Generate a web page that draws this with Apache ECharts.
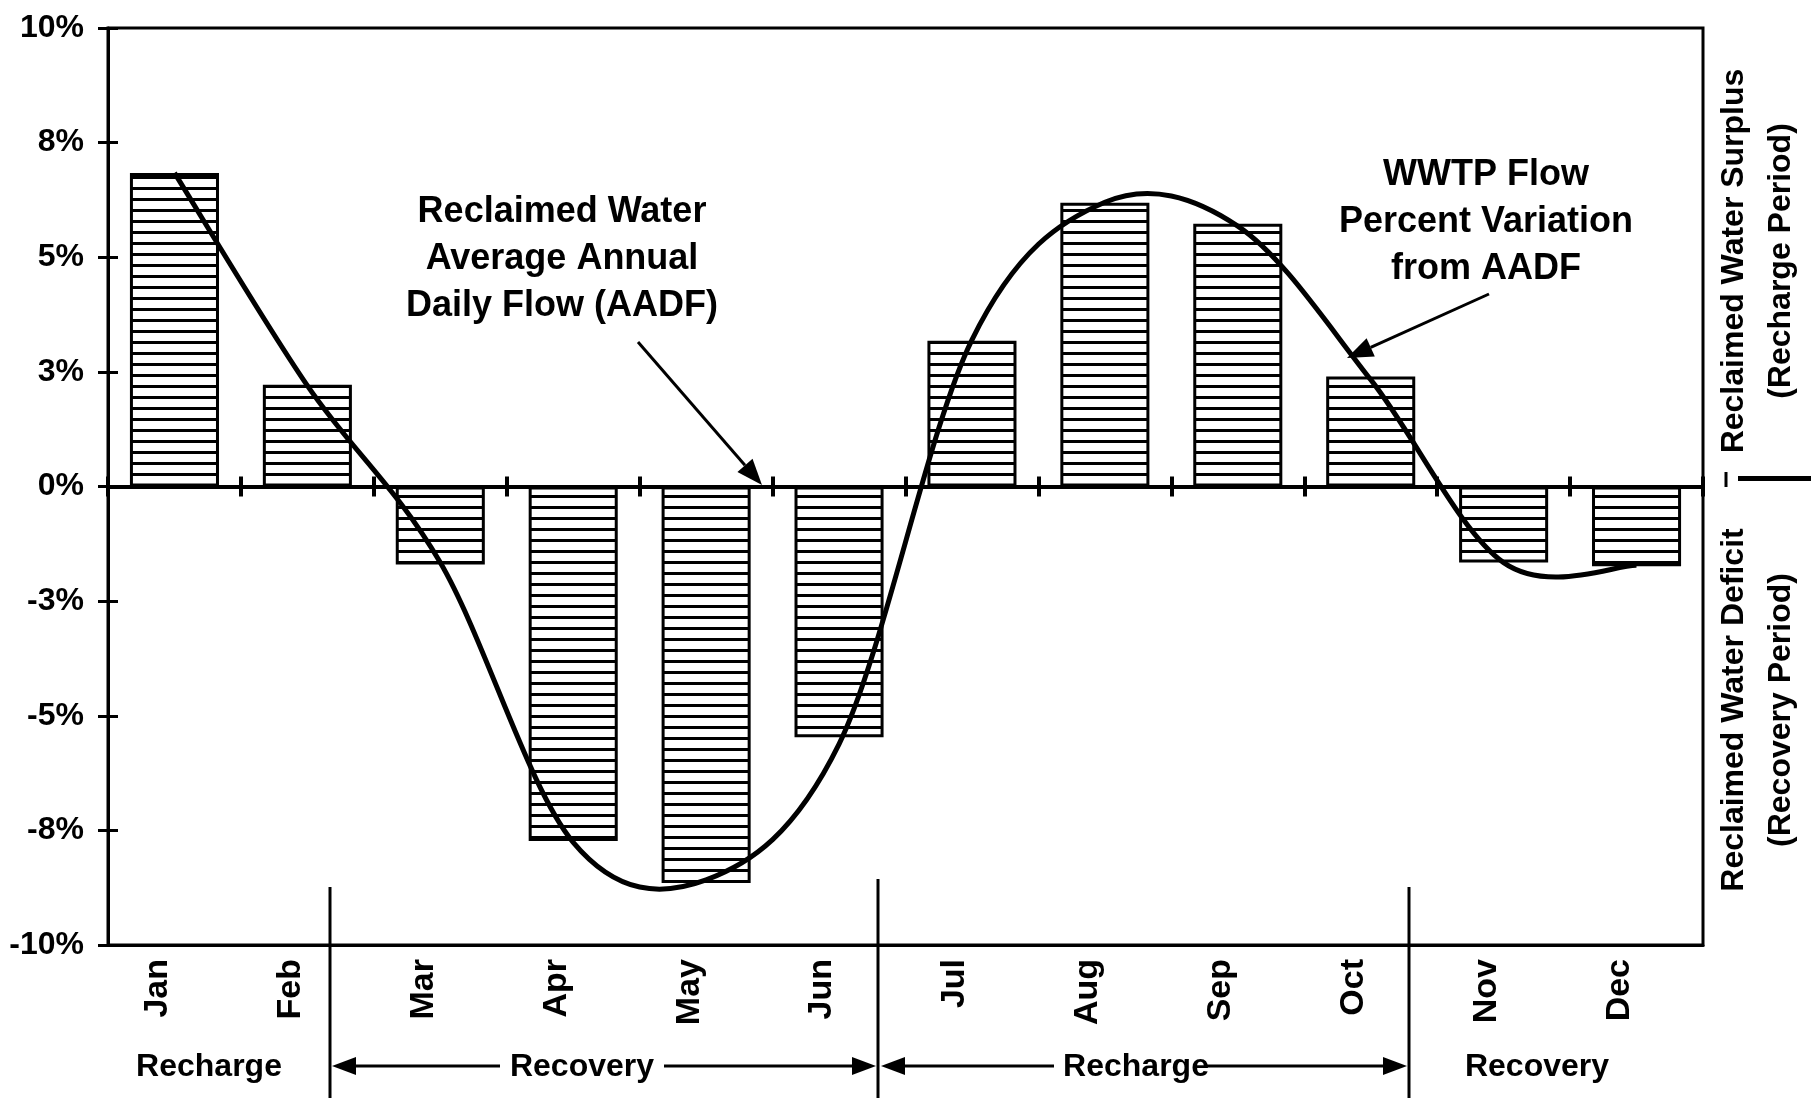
<!DOCTYPE html>
<html>
<head>
<meta charset="utf-8">
<title>WWTP Flow Percent Variation from AADF</title>
<script src="https://cdn.jsdelivr.net/npm/echarts@6/dist/echarts.min.js"></script>
<style>
  html, body { margin: 0; padding: 0; background: #fff; }
  #chart { width: 1818px; height: 1098px; }
</style>
</head>
<body>
<div id="chart"></div>
<script>
const months = ['Jan', 'Feb', 'Mar', 'Apr', 'May', 'Jun', 'Jul', 'Aug', 'Sep', 'Oct', 'Nov', 'Dec'];
// monthly variation from AADF (%), bar ends
const barValues = [6.84, 2.22, -1.7, -7.73, -8.65, -5.47, 3.18, 6.19, 5.73, 2.4, -1.66, -1.74];
// smooth curve read at each month centre (%)
const curveValues = [6.84, 2.2, -1.66, -7.76, -8.58, -5.62, 3.2, 6.2, 5.68, 2.33, -1.66, -1.72];
const yTickLabels = ['-10%', '-8%', '-5%', '-3%', '0%', '3%', '5%', '8%', '10%'];
const periodLabels = ['Recharge', 'Recovery', 'Recharge', 'Recovery'];

const FONT = '"Liberation Sans", Arial, sans-serif';

// horizontal hatch used to fill the bars
function stripes() {
  const c = document.createElement('canvas');
  c.width = 8;
  c.height = 11;
  const ctx = c.getContext('2d');
  ctx.fillStyle = '#fff';
  ctx.fillRect(0, 0, 8, 11);
  ctx.fillStyle = '#000';
  ctx.fillRect(0, 0, 8, 3);
  return c;
}

function arrow(x1, y1, x2, y2, head, half, width) {
  const len = Math.hypot(x2 - x1, y2 - y1);
  const ux = (x2 - x1) / len, uy = (y2 - y1) / len;
  const bx = x2 - ux * head, by = y2 - uy * head;
  return [
    { type: 'line', shape: { x1: x1, y1: y1, x2: bx, y2: by }, style: { stroke: '#000', lineWidth: width } },
    {
      type: 'polygon',
      shape: { points: [[x2, y2], [bx - uy * half, by + ux * half], [bx + uy * half, by - ux * half]] },
      style: { fill: '#000' }
    }
  ];
}

function label(text, x, y, size, extra) {
  return Object.assign({
    type: 'text',
    x: x,
    y: y,
    style: {
      text: text,
      fontSize: size,
      fontWeight: 'bold',
      fontFamily: FONT,
      fill: '#000',
      align: 'center',
      verticalAlign: 'middle',
      lineHeight: 47
    }
  }, extra || {});
}

function vline(x, y1, y2, w) {
  return { type: 'line', shape: { x1: x, y1: y1, x2: x, y2: y2 }, style: { stroke: '#000', lineWidth: w } };
}

// Excel-style smoothed curve: cubic bezier through every point (Catmull-Rom tangents)
function curvePath(pts) {
  const n = pts.length;
  let d = 'M' + pts[0][0] + ',' + pts[0][1];
  for (let i = 0; i < n - 1; i++) {
    const p0 = pts[Math.max(i - 1, 0)], p1 = pts[i], p2 = pts[i + 1], p3 = pts[Math.min(i + 2, n - 1)];
    const c1x = p1[0] + (p2[0] - p0[0]) / 6, c1y = p1[1] + (p2[1] - p0[1]) / 6;
    const c2x = p2[0] - (p3[0] - p1[0]) / 6, c2y = p2[1] - (p3[1] - p1[1]) / 6;
    d += ' C' + c1x + ',' + c1y + ' ' + c2x + ',' + c2y + ' ' + p2[0] + ',' + p2[1];
  }
  return d;
}

const zeroAxis = (inside) => ({
  type: 'category',
  data: months,
  position: 'bottom',
  axisLine: { onZero: true, onZeroAxisIndex: 0, lineStyle: { color: '#000', width: 4 } },
  axisTick: { show: true, inside: inside, length: 10, lineStyle: { color: '#000', width: 4 } },
  axisLabel: { show: false },
  splitLine: { show: false }
});

const graphics = [
  label('Reclaimed Water\nAverage Annual\nDaily Flow (AADF)', 562, 259, 36, {}),
  label('WWTP Flow\nPercent Variation\nfrom AADF', 1486, 222, 36, {}),
  ...arrow(638, 342, 762, 485, 26, 10, 3),
  ...arrow(1489, 294, 1347, 358, 26, 10, 3),
  label('Reclaimed Water Surplus\n(Recharge Period)', 1758, 261, 32, { rotation: Math.PI / 2 }),
  label('Reclaimed Water Deficit\n(Recovery Period)', 1758, 710, 32, { rotation: Math.PI / 2 }),
  { type: 'rect', shape: { x: 1738, y: 476, width: 73, height: 5 }, style: { fill: '#000' } },
  vline(1726, 472, 487, 3),
  vline(330, 887, 1098, 3),
  vline(878, 879, 1098, 3),
  vline(1409, 887, 1098, 3),
  label(periodLabels[0], 209, 1067, 32),
  label(periodLabels[1], 582, 1067, 32),
  label(periodLabels[2], 1136, 1067, 32),
  label(periodLabels[3], 1537, 1067, 32),
  ...arrow(500, 1066, 332, 1066, 24, 9, 3),
  ...arrow(664, 1066, 876, 1066, 24, 9, 3),
  ...arrow(1054, 1066, 881, 1066, 24, 9, 3),
  ...arrow(1206, 1066, 1407, 1066, 24, 9, 3)
];

const options = {
  backgroundColor: '#fff',
  animation: false,
  grid: { left: 108, right: 115, top: 28, bottom: 153, show: true, borderColor: '#000', borderWidth: 3 },
  xAxis: [
    {
      type: 'category',
      data: months,
      position: 'bottom',
      axisLine: { onZero: false, lineStyle: { color: '#000', width: 3 } },
      axisTick: { show: false },
      axisLabel: {
        rotate: 90,
        margin: 14,
        verticalAlign: 'bottom',
        fontSize: 34,
        fontWeight: 'bold',
        fontFamily: FONT,
        color: '#000'
      },
      splitLine: { show: false }
    },
    zeroAxis(false),
    zeroAxis(true)
  ],
  yAxis: [
    {
      type: 'value',
      min: -10,
      max: 10,
      interval: 2.5,
      axisLine: { show: true, lineStyle: { color: '#000', width: 3 } },
      axisTick: { show: true, length: 10, lineStyle: { color: '#000', width: 3 } },
      axisLabel: {
        margin: 24,
        fontSize: 32,
        fontWeight: 'bold',
        fontFamily: FONT,
        color: '#000',
        formatter: (v) => yTickLabels[Math.round((v + 10) / 2.5)]
      },
      splitLine: { show: false }
    },
    {
      type: 'value',
      min: -10,
      max: 10,
      interval: 2.5,
      position: 'left',
      axisLine: { show: false },
      axisTick: { show: true, inside: true, length: 10, lineStyle: { color: '#000', width: 3 } },
      axisLabel: { show: false },
      splitLine: { show: false }
    }
  ],
  series: [
    {
      name: 'Monthly variation',
      type: 'bar',
      data: barValues,
      barCategoryGap: '33%',
      itemStyle: {
        color: { image: stripes(), repeat: 'repeat' },
        borderColor: '#000',
        borderWidth: 3
      },
      z: 2
    },
    {
      name: 'WWTP Flow Percent Variation from AADF',
      type: 'custom',
      data: curveValues.map((v, i) => [i, v]),
      encode: { x: 0, y: 1 },
      z: 5,
      renderItem: (params, api) => {
        if (params.dataIndex !== 0) return;
        const pts = curveValues.map((v, i) => api.coord([i, v]));
        return {
          type: 'path',
          shape: { pathData: curvePath(pts) },
          style: { fill: 'none', stroke: '#000', lineWidth: 5, lineJoin: 'round' }
        };
      }
    }
  ],
  graphic: graphics
};

const chart = echarts.init(document.getElementById('chart'));
chart.setOption(options);
window.addEventListener('resize', () => {
  chart.resize();
});
</script>
</body>
</html>
